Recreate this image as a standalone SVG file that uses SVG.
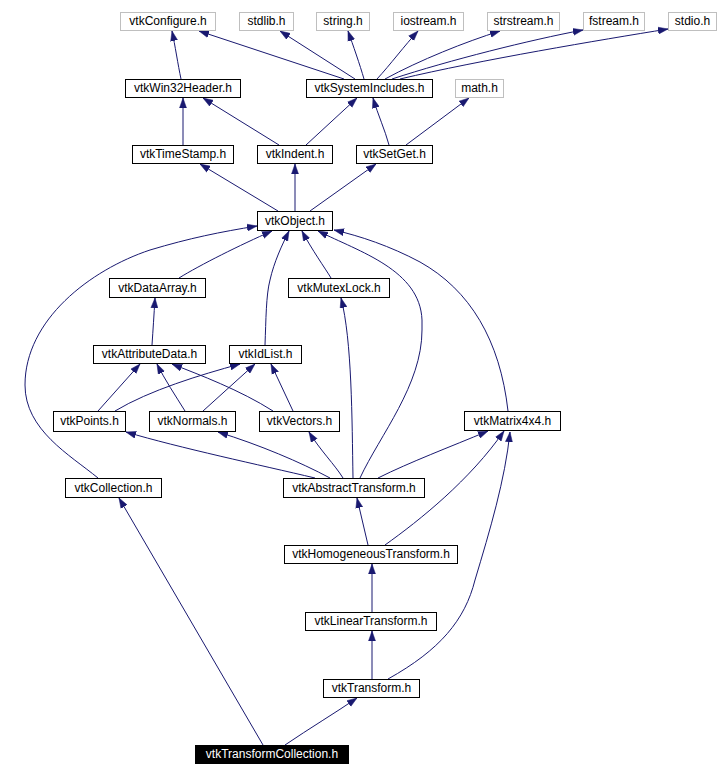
<svg xmlns="http://www.w3.org/2000/svg" width="718" height="776" viewBox="0 0 718 776">
<style>
.n rect{fill:#fff;stroke:#000;stroke-width:1}
.g rect{fill:#fff;stroke:#bfbfbf;stroke-width:1}
.n text,.g text{font-family:"Liberation Sans",Arial,sans-serif;font-size:12px;text-anchor:middle;fill:#000}
.root rect{fill:#000;stroke:#000}
.root text{font-family:"Liberation Sans",Arial,sans-serif;font-size:12px;text-anchor:middle;fill:#fff}
#edges path{fill:none;stroke:#191970;stroke-width:1;marker-end:url(#ah)}
</style>
<defs>
<marker id="ah" markerUnits="userSpaceOnUse" markerWidth="10" markerHeight="8" refX="10" refY="4" orient="auto">
<path d="M0,0.5 L10,4 L0,7.5 z" fill="#191970" stroke="#191970" stroke-width="0.5"/>
</marker>
</defs>
<rect width="718" height="776" fill="#fff"/>
<g id="edges">
<path d="M181,79 C178,65 175,45 172,31"/>
<path d="M344,79 L199,31"/>
<path d="M355,79 L280,31"/>
<path d="M364,79 C360,65 353,45 348,31"/>
<path d="M377,79 C390,65 405,45 418,31"/>
<path d="M385,79 C420,60 465,42 500,31"/>
<path d="M392,79 C450,60 530,40 583,30"/>
<path d="M400,79 C480,60 600,40 668,29"/>
<path d="M183,145 L183,98"/>
<path d="M279,145 L203,98"/>
<path d="M306,145 L357,98"/>
<path d="M389,145 C385,130 378,115 373,98"/>
<path d="M406,145 L469,98"/>
<path d="M278,211 L200,164"/>
<path d="M295,211 L295,164"/>
<path d="M310,211 L376,164"/>
<path d="M179,278 C200,265 240,245 272,231"/>
<path d="M265,345 C266,320 266,295 270,280 C274,262 282,245 289,231"/>
<path d="M331,278 C325,268 312,250 302,231"/>
<path d="M360,478 C380,435 422,385 422,330 L422,320 C420,270 360,252 318,231"/>
<path d="M508,411 C500,340 470,290 420,262 C390,246 360,236 334,230"/>
<path d="M98,478 C70,455 25,430 25,385 C25,320 90,270 150,250 C190,238 220,232 257,226"/>
<path d="M152,345 C153,330 154,315 155,298"/>
<path d="M98,411 L140,364"/>
<path d="M115,411 C150,390 200,375 240,364"/>
<path d="M185,411 C175,395 165,380 157,364"/>
<path d="M203,411 L255,364"/>
<path d="M273,411 C240,390 200,375 172,364"/>
<path d="M293,411 L271,364"/>
<path d="M315,478 C260,465 180,448 126,432"/>
<path d="M330,478 C300,462 260,445 218,432"/>
<path d="M343,478 C335,465 320,450 309,432"/>
<path d="M353,478 C352,420 352,340 341,298"/>
<path d="M378,478 C410,462 450,447 488,431"/>
<path d="M368,545 L357,498"/>
<path d="M385,545 C420,520 470,480 504,431"/>
<path d="M372,612 L372,564"/>
<path d="M372,679 L372,631"/>
<path d="M388,679 C440,650 465,620 475,580 C490,530 505,480 510,432"/>
<path d="M263,745 L119,498"/>
<path d="M285,745 C310,728 335,713 357,698"/>
</g>
<g id="n_vtkConfigure" class="g"><rect x="120.5" y="12.5" width="95" height="18"/><text x="168" y="25">vtkConfigure.h</text></g>
<g id="n_stdlib" class="g"><rect x="239.5" y="12.5" width="54" height="18"/><text x="266.5" y="25">stdlib.h</text></g>
<g id="n_string" class="g"><rect x="316.5" y="12.5" width="53" height="18"/><text x="343" y="25">string.h</text></g>
<g id="n_iostream" class="g"><rect x="393.5" y="12.5" width="70" height="18"/><text x="428.5" y="25">iostream.h</text></g>
<g id="n_strstream" class="g"><rect x="487.5" y="12.5" width="72" height="18"/><text x="523.5" y="25">strstream.h</text></g>
<g id="n_fstream" class="g"><rect x="583.5" y="12.5" width="61" height="18"/><text x="614" y="25">fstream.h</text></g>
<g id="n_stdio" class="g"><rect x="668.5" y="12.5" width="48" height="18"/><text x="692.5" y="25">stdio.h</text></g>
<g id="n_math" class="g"><rect x="455.5" y="79.5" width="48" height="18"/><text x="479.5" y="92">math.h</text></g>
<g id="n_vtkWin32Header" class="n"><rect x="125.5" y="79.5" width="115" height="18"/><text x="183" y="92">vtkWin32Header.h</text></g>
<g id="n_vtkSystemIncludes" class="n"><rect x="306.5" y="79.5" width="126" height="18"/><text x="369.5" y="92">vtkSystemIncludes.h</text></g>
<g id="n_vtkTimeStamp" class="n"><rect x="132.5" y="145.5" width="101" height="18"/><text x="183" y="158">vtkTimeStamp.h</text></g>
<g id="n_vtkIndent" class="n"><rect x="257.5" y="145.5" width="75" height="18"/><text x="295" y="158">vtkIndent.h</text></g>
<g id="n_vtkSetGet" class="n"><rect x="356.5" y="145.5" width="76" height="18"/><text x="394.5" y="158">vtkSetGet.h</text></g>
<g id="n_vtkObject" class="n"><rect x="257.5" y="211.5" width="75" height="19"/><text x="295" y="224.5">vtkObject.h</text></g>
<g id="n_vtkDataArray" class="n"><rect x="109.5" y="278.5" width="96" height="19"/><text x="157.5" y="291.5">vtkDataArray.h</text></g>
<g id="n_vtkMutexLock" class="n"><rect x="288.5" y="278.5" width="101" height="19"/><text x="339" y="291.5">vtkMutexLock.h</text></g>
<g id="n_vtkAttributeData" class="n"><rect x="93.5" y="345.5" width="112" height="18"/><text x="149.5" y="358">vtkAttributeData.h</text></g>
<g id="n_vtkIdList" class="n"><rect x="229.5" y="345.5" width="72" height="18"/><text x="265.5" y="358">vtkIdList.h</text></g>
<g id="n_vtkPoints" class="n"><rect x="53.5" y="411.5" width="72" height="20"/><text x="89.5" y="425">vtkPoints.h</text></g>
<g id="n_vtkNormals" class="n"><rect x="149.5" y="411.5" width="86" height="20"/><text x="192.5" y="425">vtkNormals.h</text></g>
<g id="n_vtkVectors" class="n"><rect x="259.5" y="411.5" width="80" height="20"/><text x="299.5" y="425">vtkVectors.h</text></g>
<g id="n_vtkMatrix4x4" class="n"><rect x="464.5" y="411.5" width="96" height="19"/><text x="512.5" y="424.5">vtkMatrix4x4.h</text></g>
<g id="n_vtkCollection" class="n"><rect x="65.5" y="478.5" width="96" height="19"/><text x="113.5" y="491.5">vtkCollection.h</text></g>
<g id="n_vtkAbstractTransform" class="n"><rect x="283.5" y="478.5" width="141" height="19"/><text x="354" y="491.5">vtkAbstractTransform.h</text></g>
<g id="n_vtkHomogeneousTransform" class="n"><rect x="284.5" y="545.5" width="173" height="18"/><text x="371" y="558">vtkHomogeneousTransform.h</text></g>
<g id="n_vtkLinearTransform" class="n"><rect x="305.5" y="612.5" width="131" height="18"/><text x="371" y="625">vtkLinearTransform.h</text></g>
<g id="n_vtkTransform" class="n"><rect x="323.5" y="679.5" width="96" height="18"/><text x="371.5" y="692">vtkTransform.h</text></g>
<g id="n_vtkTransformCollection" class="root"><rect x="195.5" y="745.5" width="153" height="18"/><text x="272" y="758">vtkTransformCollection.h</text></g>
</svg>
